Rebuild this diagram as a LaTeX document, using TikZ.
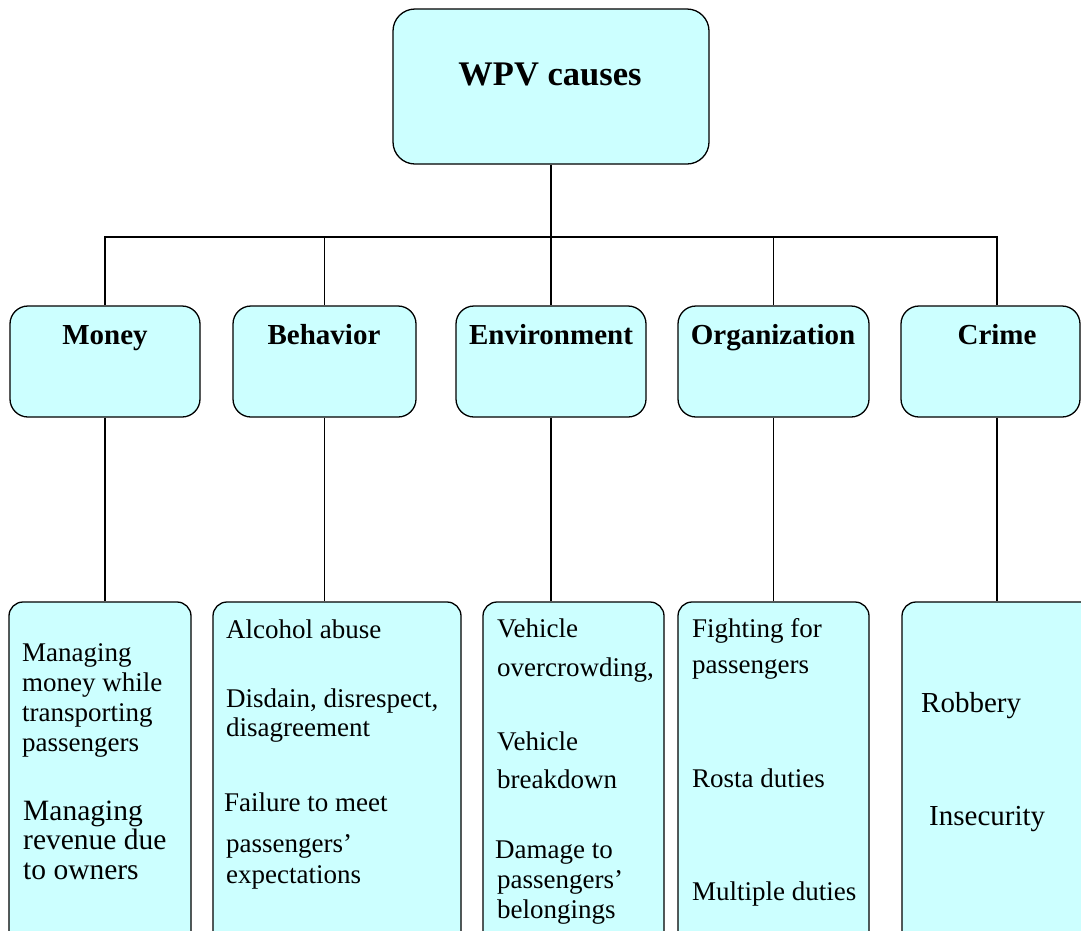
\documentclass[tikz,border=0pt]{standalone}
\usepackage{fontspec}
\setmainfont{Liberation Serif}
\definecolor{boxcyan}{HTML}{CCFFFF}
\tikzset{
  causebox/.style={draw=black, line width=1.3pt, fill=boxcyan, inner sep=0pt},
  rootbox/.style={causebox, rounded corners=22pt, minimum width=316pt, minimum height=155pt},
  headbox/.style={causebox, rounded corners=18pt, minimum height=111pt},
  listbox/.style={causebox, rounded corners=14pt, minimum height=360pt},
  headtext/.style={anchor=base, inner sep=0pt, font=\bfseries\fontsize{29}{34}\selectfont},
  itemtext/.style={anchor=base west, inner sep=0pt, font=\fontsize{27}{32}\selectfont},
  bigitem/.style={itemtext, font=\fontsize{29.5}{34}\selectfont},
  link/.style={line width=1.2pt}
}
\begin{document}
\begin{tikzpicture}[x=1pt, y=-1pt]

\useasboundingbox (0,0) rectangle (1081,930);
\clip (0,0) rectangle (1081,930);

% top box
\node[rootbox] (root) at (551,86.5) {};
\node[anchor=base, inner sep=0pt, font=\bfseries\fontsize{34.5}{40}\selectfont] (rootlabel) at (550,85) {WPV causes};

% category boxes
\node[headbox, minimum width=190pt] (moneyhead) at (105,361.5) {};
\node[headbox, minimum width=183pt] (behaviorhead) at (324.5,361.5) {};
\node[headbox, minimum width=190pt] (environmenthead) at (551,361.5) {};
\node[headbox, minimum width=191pt] (organizationhead) at (773.5,361.5) {};
\node[headbox, minimum width=179pt] (crimehead) at (990.5,361.5) {};

\node[headtext] (moneylabel) at (105,344) {Money};
\node[headtext] (behaviorlabel) at (324,344) {Behavior};
\node[headtext] (environmentlabel) at (551,344) {Environment};
\node[headtext] (organizationlabel) at (773,344) {Organization};
\node[headtext] (crimelabel) at (997,344) {Crime};

% list boxes
\node[listbox, minimum width=182pt] (moneylist) at (100,782) {};
\node[listbox, minimum width=248pt] (behaviorlist) at (337,782) {};
\node[listbox, minimum width=181pt] (environmentlist) at (573.5,782) {};
\node[listbox, minimum width=191pt] (organizationlist) at (773.5,782) {};
\node[listbox, minimum width=198pt] (crimelist) at (1001,782) {};

% connectors
\coordinate (bus) at (551,237);
\draw[link] (root.south) -- (bus);
\foreach \n in {money,behavior,environment,organization}
  \draw[link] (bus) -| (\n head.north);
\draw[link] (bus) -| ([xshift=6.5pt]crimehead.north);
\foreach \n in {money,behavior,environment,organization}
  \draw[link] (\n head.south) -- (\n head.south |- \n list.north);
\draw[link] ([xshift=6.5pt]crimehead.south) -- ([xshift=6.5pt]crimehead.south |- crimelist.north);

% Money
\node[itemtext] (m1) at (22,661) {Managing};
\node[itemtext] (m2) at (22,691) {money while};
\node[itemtext] (m3) at (22,721) {transporting};
\node[itemtext] (m4) at (22,751) {passengers};
\node[bigitem] (m5) at (23,820) {Managing};
\node[bigitem] (m6) at (23,849) {revenue due};
\node[bigitem] (m7) at (23,879) {to owners};

% Behavior
\node[itemtext] (b1) at (226,638) {Alcohol abuse};
\node[itemtext] (b2) at (226,707) {Disdain, disrespect,};
\node[itemtext] (b3) at (226,736) {disagreement};
\node[itemtext] (b4) at (224,811) {Failure to meet};
\node[itemtext] (b5) at (226,852) {passengers’};
\node[itemtext] (b6) at (226,883) {expectations};

% Environment
\node[itemtext] (e1) at (497,637) {Vehicle};
\node[itemtext] (e2) at (497,676) {overcrowding,};
\node[itemtext] (e3) at (497,750) {Vehicle};
\node[itemtext] (e4) at (497,788) {breakdown};
\node[itemtext] (e5) at (495,858) {Damage to};
\node[itemtext] (e6) at (497,888) {passengers’};
\node[itemtext] (e7) at (497,918) {belongings};

% Organization
\node[itemtext] (o1) at (692,637) {Fighting for};
\node[itemtext] (o2) at (692,673) {passengers};
\node[itemtext] (o3) at (692,787) {Rosta duties};
\node[itemtext] (o4) at (692,900) {Multiple duties};

% Crime
\node[bigitem, font=\fontsize{29}{34}\selectfont] (c1) at (921,712) {Robbery};
\node[bigitem, font=\fontsize{29}{34}\selectfont] (c2) at (929,825) {Insecurity};

\end{tikzpicture}
\end{document}
